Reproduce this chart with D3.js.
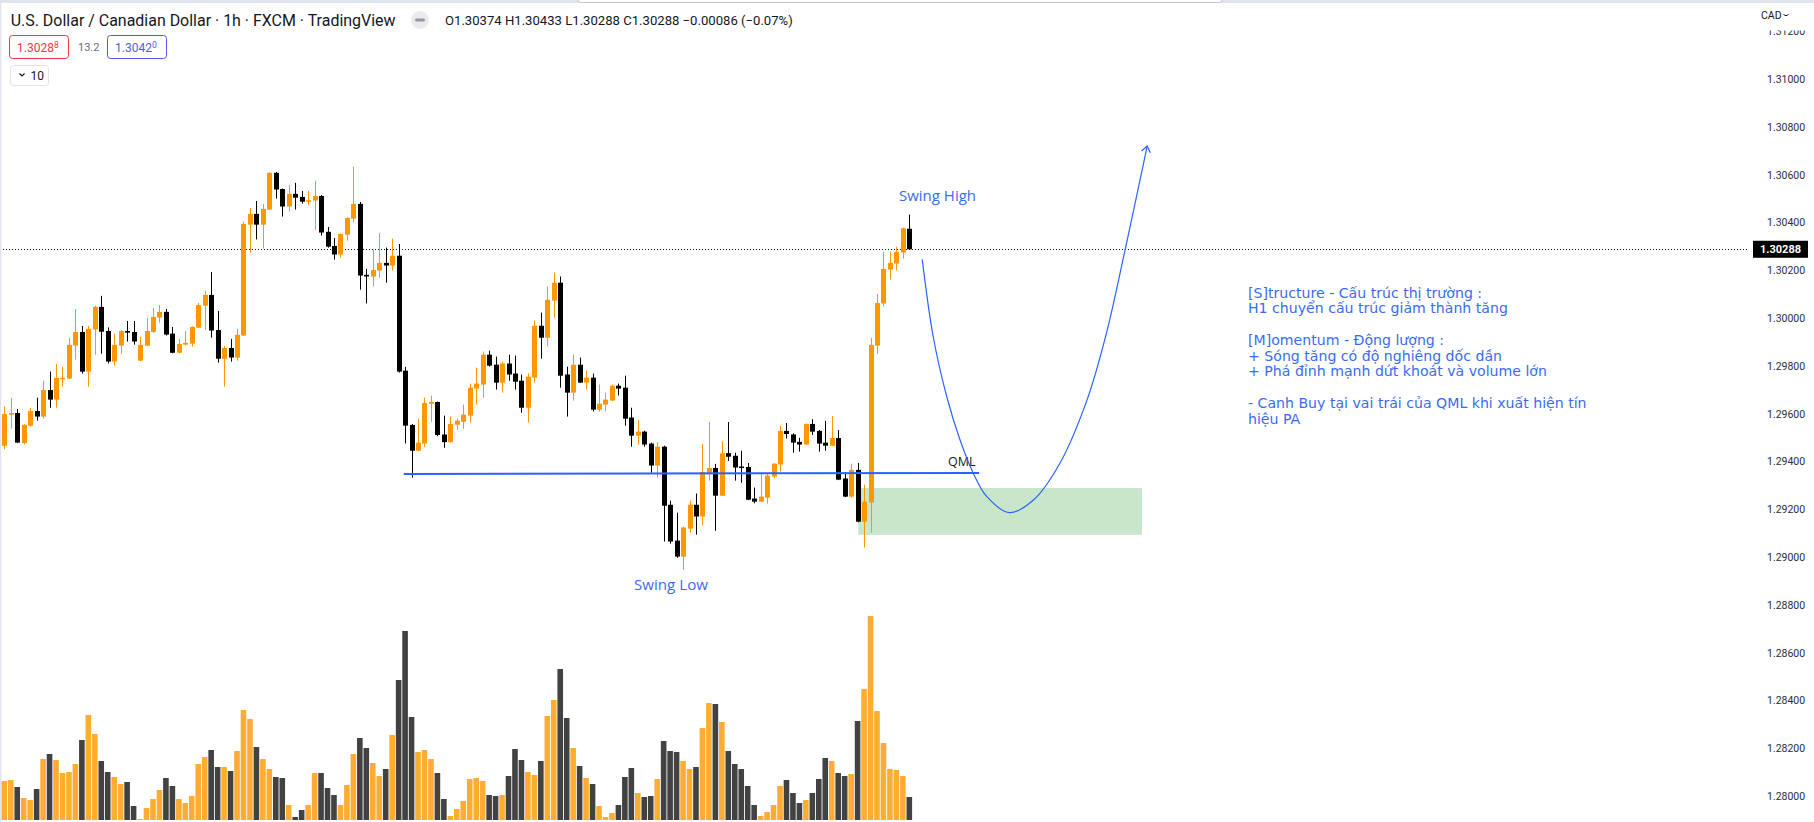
<!DOCTYPE html>
<html>
<head>
<meta charset="utf-8">
<script src="https://cdn.jsdelivr.net/npm/d3@7"></script>
<style>
  html, body { margin: 0; padding: 0; background: #ffffff; }
  svg { display: block; }
</style>
</head>
<body>
<svg id="chart" width="1814" height="822"></svg>
<script>
// ---------------- DATA (USD/CAD, 1h, FXCM) ----------------
const openP = [
1.29466,1.29596,1.29603,1.29477,1.29550,1.29611,1.29588,1.29699,1.29659,1.29746,
1.29747,1.29885,1.29942,1.29776,1.29952,1.30047,1.29946,1.29818,1.29885,1.29946,
1.29942,1.29822,1.29885,1.29942,1.30002,1.30026,1.29935,1.29855,1.29889,1.29893,
1.29960,1.30052,1.30097,1.29950,1.29830,1.29875,1.29835,1.29927,1.30391,1.30436,
1.30391,1.30454,1.30608,1.30540,1.30467,1.30520,1.30507,1.30487,1.30492,1.30511,
1.30361,1.30302,1.30266,1.30349,1.30416,1.30478,1.30181,1.30174,1.30199,1.30231,
1.30220,1.30261,1.29780,1.29553,1.29445,1.29475,1.29641,1.29649,1.29513,1.29481,
1.29554,1.29566,1.29592,1.29705,1.29722,1.29847,1.29805,1.29730,1.29810,1.29768,
1.29738,1.29625,1.29751,1.29968,1.29918,1.30073,1.30148,1.29764,1.29688,1.29805,
1.29730,1.29751,1.29617,1.29638,1.29655,1.29717,1.29709,1.29584,1.29508,1.29525,
1.29475,1.29383,1.29462,1.29219,1.29069,1.29002,1.29119,1.29219,1.29170,1.29350,
1.29373,1.29257,1.29435,1.29424,1.29379,1.29377,1.29245,1.29232,1.29249,1.29337,
1.29387,1.29528,1.29513,1.29482,1.29471,1.29557,1.29528,1.29479,1.29466,1.29498,
1.29329,1.29253,1.29365,1.29148,1.29228,1.29885,1.30061,1.30203,1.30228,1.30274,
1.30374];
const highP = [
1.29630,1.29667,1.29620,1.29557,1.29624,1.29667,1.29738,1.29776,1.29808,1.29796,
1.29917,1.30038,1.29967,1.29967,1.30052,1.30093,1.29961,1.29935,1.29950,1.29988,
1.29988,1.29921,1.30001,1.30043,1.30055,1.30038,1.29963,1.29913,1.29946,1.29965,
1.30063,1.30114,1.30193,1.30030,1.29883,1.29913,1.29955,1.30404,1.30461,1.30490,
1.30478,1.30610,1.30612,1.30542,1.30557,1.30566,1.30532,1.30532,1.30574,1.30515,
1.30381,1.30335,1.30354,1.30421,1.30633,1.30486,1.30206,1.30287,1.30356,1.30295,
1.30333,1.30310,1.29796,1.29557,1.29579,1.29667,1.29676,1.29651,1.29592,1.29588,
1.29579,1.29638,1.29726,1.29793,1.29860,1.29864,1.29839,1.29818,1.29847,1.29843,
1.29764,1.29768,1.29990,1.30023,1.30132,1.30190,1.30174,1.29797,1.29847,1.29835,
1.29780,1.29768,1.29722,1.29688,1.29722,1.29726,1.29759,1.29625,1.29575,1.29529,
1.29479,1.29481,1.29466,1.29236,1.29186,1.29127,1.29236,1.29266,1.29473,1.29565,
1.29390,1.29486,1.29565,1.29437,1.29445,1.29394,1.29291,1.29353,1.29349,1.29393,
1.29550,1.29561,1.29518,1.29499,1.29559,1.29577,1.29532,1.29570,1.29590,1.29532,
1.29356,1.29391,1.29394,1.29303,1.29917,1.30101,1.30278,1.30278,1.30299,1.30379,
1.30433];
const lowP = [
1.29451,1.29537,1.29477,1.29471,1.29545,1.29571,1.29579,1.29625,1.29625,1.29713,
1.29745,1.29826,1.29768,1.29713,1.29847,1.29851,1.29810,1.29801,1.29851,1.29902,
1.29889,1.29820,1.29883,1.29938,1.29981,1.29927,1.29853,1.29853,1.29885,1.29881,
1.29958,1.29952,1.29918,1.29814,1.29713,1.29818,1.29822,1.29925,1.30274,1.30329,
1.30291,1.30452,1.30500,1.30425,1.30446,1.30454,1.30479,1.30471,1.30370,1.30345,
1.30295,1.30245,1.30253,1.30324,1.30400,1.30119,1.30061,1.30132,1.30169,1.30148,
1.30199,1.29772,1.29475,1.29332,1.29443,1.29462,1.29566,1.29506,1.29457,1.29479,
1.29533,1.29537,1.29563,1.29638,1.29667,1.29797,1.29701,1.29688,1.29738,1.29701,
1.29604,1.29563,1.29730,1.29830,1.29881,1.30002,1.29709,1.29588,1.29655,1.29728,
1.29701,1.29609,1.29609,1.29609,1.29653,1.29676,1.29550,1.29462,1.29471,1.29462,
1.29353,1.29332,1.29065,1.29056,1.28997,1.28947,1.29102,1.29094,1.29132,1.29320,
1.29110,1.29255,1.29402,1.29320,1.29311,1.29238,1.29225,1.29230,1.29224,1.29329,
1.29357,1.29496,1.29437,1.29441,1.29469,1.29511,1.29441,1.29445,1.29464,1.29322,
1.29251,1.29249,1.29146,1.29040,1.29102,1.29851,1.30048,1.30161,1.30199,1.30249,
1.30288];
const closeP = [
1.29599,1.29603,1.29479,1.29553,1.29611,1.29588,1.29699,1.29659,1.29750,1.29750,
1.29888,1.29942,1.29776,1.29955,1.30047,1.29943,1.29818,1.29888,1.29946,1.29939,
1.29902,1.29888,1.29946,1.30005,1.30026,1.29931,1.29855,1.29892,1.29896,1.29963,
1.30055,1.30097,1.29948,1.29830,1.29875,1.29835,1.29930,1.30394,1.30436,1.30391,
1.30457,1.30608,1.30538,1.30467,1.30520,1.30504,1.30487,1.30494,1.30511,1.30358,
1.30299,1.30266,1.30352,1.30419,1.30478,1.30178,1.30174,1.30201,1.30231,1.30220,
1.30261,1.29776,1.29550,1.29445,1.29479,1.29645,1.29649,1.29511,1.29481,1.29557,
1.29571,1.29596,1.29709,1.29726,1.29847,1.29801,1.29730,1.29810,1.29764,1.29734,
1.29625,1.29755,1.29968,1.29918,1.30077,1.30148,1.29759,1.29688,1.29805,1.29730,
1.29751,1.29617,1.29642,1.29659,1.29717,1.29705,1.29579,1.29508,1.29525,1.29471,
1.29383,1.29462,1.29215,1.29065,1.29002,1.29124,1.29219,1.29170,1.29356,1.29373,
1.29257,1.29435,1.29420,1.29375,1.29373,1.29240,1.29232,1.29253,1.29341,1.29391,
1.29528,1.29515,1.29479,1.29471,1.29557,1.29525,1.29475,1.29466,1.29498,1.29324,
1.29253,1.29365,1.29148,1.29232,1.29888,1.30063,1.30206,1.30231,1.30277,1.30376,
1.30288];
const volume = [
117,120,99,66,60,93,183,198,180,141,144,168,240,315,258,177,144,129,108,114,
42,3,36,63,90,126,102,63,51,72,168,189,210,159,159,147,207,330,303,219,
183,153,129,126,45,9,30,45,141,141,96,75,45,105,198,246,216,171,132,153,
255,420,567,309,204,210,183,141,63,12,33,57,123,126,117,75,72,75,132,213,
180,144,135,177,312,360,453,306,216,162,126,108,42,9,21,45,129,156,81,69,
72,123,237,207,204,177,153,159,276,351,348,294,207,168,153,102,45,12,24,45,
102,120,81,51,60,81,123,186,177,141,132,138,297,393,612,327,231,153,150,132,
69];
const priceTicks = [1.280,1.282,1.284,1.286,1.288,1.290,1.292,1.294,1.296,1.298,
                    1.300,1.302,1.304,1.306,1.308,1.310,1.312];
const lastPrice = 1.30288;

// drawings (bar index, price)
const qmlIdx = [61.8, 150.8];
const qmlPrice = [1.29348, 1.29352];
const zoneIdx = [132.1, 176.0];
const zonePrice = [1.29289, 1.29093];
const pathIdx = [142.0,143.7,145.8,147.85,149.9,152.0,155.5,159.2,163.3,167.5,170.5,173.4,176.8];
const pathPrice = [1.30246,1.29922,1.29671,1.29490,1.29351,1.29253,1.29186,1.29239,1.29393,1.29658,1.29937,1.30288,1.30720];

const notes = [
  "[S]tructure - Cấu trúc thị trường :",
  "H1 chuyển cấu trúc giảm thành tăng",
  "",
  "[M]omentum - Động lượng :",
  "+ Sóng tăng có độ nghiêng dốc dần",
  "+ Phá đỉnh mạnh dứt khoát và volume lớn",
  "",
  "- Canh Buy tại vai trái của QML khi xuất hiện tín",
  "hiệu PA"
];

// ---------------- SETUP ----------------
const W = 1814, H = 822;
const UP = "#FF9800", DOWN = "#000000";
const VUP = "#FFAC33", VDOWN = "#424242";
const BLUE = "#2962FF", TXTBLUE = "#3A6CF2";
const svg = d3.select("#chart");

const candles = openP.map((o, i) => ({i, o, h: highP[i], l: lowP[i], c: closeP[i], v: volume[i]}));

const x = d3.scaleLinear().domain([0, 140]).range([4.3, 909.3]);
const y = d3.scaleLinear().domain([1.28, 1.312]).range([796.1, 31.3]);
const yv = d3.scaleLinear().domain([0, 612]).range([820, 616]);

function fitText(sel, target) {
  const node = sel.node();
  const fs = parseFloat(sel.attr("font-size"));
  const w = node.getComputedTextLength();
  if (w > 0) sel.attr("font-size", (fs * target / w).toFixed(2));
  return sel;
}

svg.append("rect").attr("width", W).attr("height", H).attr("fill", "#fff");

// volume bars
svg.append("g").selectAll("rect").data(candles).join("rect")
  .attr("x", d => x(d.i) - 2.8)
  .attr("width", 5.6)
  .attr("y", d => yv(d.v))
  .attr("height", d => yv(0) - yv(d.v))
  .attr("fill", d => d.c >= d.o ? VUP : VDOWN);

// demand zone
svg.append("rect")
  .attr("x", x(zoneIdx[0])).attr("width", x(zoneIdx[1]) - x(zoneIdx[0]))
  .attr("y", y(zonePrice[0])).attr("height", y(zonePrice[1]) - y(zonePrice[0]))
  .attr("fill", "#C8E6C9");

// last price dotted line
svg.append("line")
  .attr("x1", 0).attr("x2", 1748)
  .attr("y1", Math.round(y(lastPrice)) + 0.5).attr("y2", Math.round(y(lastPrice)) + 0.5)
  .attr("stroke", "#131722").attr("stroke-width", 1).attr("stroke-dasharray", "1,2");

// candles
const cg = svg.append("g");
cg.selectAll("line").data(candles).join("line")
  .attr("x1", d => Math.round(x(d.i)) + 0.5).attr("x2", d => Math.round(x(d.i)) + 0.5)
  .attr("y1", d => y(d.h)).attr("y2", d => y(d.l))
  .attr("stroke", d => d.c >= d.o ? UP : DOWN).attr("stroke-width", 1);
cg.selectAll("rect").data(candles).join("rect")
  .attr("x", d => Math.round(x(d.i)) - 2)
  .attr("width", 5)
  .attr("y", d => y(Math.max(d.o, d.c)))
  .attr("height", d => Math.max(1.5, Math.abs(y(d.o) - y(d.c))))
  .attr("fill", d => d.c >= d.o ? UP : DOWN);

// QML line
svg.append("line")
  .attr("x1", x(qmlIdx[0])).attr("y1", y(qmlPrice[0]))
  .attr("x2", x(qmlIdx[1])).attr("y2", y(qmlPrice[1]))
  .attr("stroke", BLUE).attr("stroke-width", 2);
svg.append("text").attr("x", 948).attr("y", y(qmlPrice[1]) - 6.5)
  .attr("font-family", "Open Sans, sans-serif").attr("font-size", 12.5)
  .attr("fill", "#131722").text("QML");

// projected path with arrow
svg.append("defs").append("marker")
  .attr("id", "arr").attr("viewBox", "-8 -6 10 12")
  .attr("refX", 0).attr("refY", 0)
  .attr("markerWidth", 10).attr("markerHeight", 12)
  .attr("markerUnits", "userSpaceOnUse").attr("orient", "auto")
  .append("path").attr("d", "M-6,-4.5 L0,0 L-6,4.5")
  .attr("fill", "none").attr("stroke", BLUE).attr("stroke-width", 1.2);
const pathPts = pathIdx.map((d, k) => [d, pathPrice[k]]);
svg.append("path")
  .attr("d", d3.line().x(d => x(d[0])).y(d => y(d[1])).curve(d3.curveCatmullRom.alpha(0.5))(pathPts))
  .attr("fill", "none").attr("stroke", BLUE).attr("stroke-width", 1.2)
  .attr("marker-end", "url(#arr)");

// swing labels
fitText(svg.append("text").attr("x", 899).attr("y", 201)
  .attr("font-family", "Open Sans, sans-serif").attr("font-size", 14)
  .attr("fill", TXTBLUE).text("Swing High"), 77);
fitText(svg.append("text").attr("x", 634).attr("y", 590)
  .attr("font-family", "Open Sans, sans-serif").attr("font-size", 14)
  .attr("fill", TXTBLUE).text("Swing Low"), 74);

// notes
const ng = svg.append("g");
const refLine = ng.append("text").attr("x", 1248).attr("y", -100)
  .attr("font-family", "DejaVu Sans, sans-serif").attr("font-size", 13).text(notes[1]);
fitText(refLine, 260);
const noteFs = refLine.attr("font-size");
refLine.remove();
notes.forEach((t, k) => {
  if (!t) return;
  ng.append("text").attr("x", 1248).attr("y", 297.5 + k * 15.75)
    .attr("font-family", "DejaVu Sans, sans-serif").attr("font-size", noteFs)
    .attr("fill", TXTBLUE).text(t);
});

// price axis
const axisG = svg.append("g").attr("transform", "translate(1762,0)")
  .call(d3.axisRight(y).tickValues(priceTicks).tickFormat(d3.format(".5f")).tickSize(0).tickPadding(5));
axisG.select(".domain").remove();
axisG.selectAll("text").attr("font-family", "Roboto, sans-serif").attr("font-size", 10.5).attr("fill", "#2A2E39");

// axis header (covers top label partially)
svg.append("rect").attr("x", 1750).attr("y", 0).attr("width", 64).attr("height", 30.5).attr("fill", "#fff");
svg.append("text").attr("x", 1761).attr("y", 18.5)
  .attr("font-family", "Roboto, sans-serif").attr("font-size", 10.5).attr("fill", "#131722").text("CAD");
svg.append("path").attr("d", "M1783.5,14.5 Q1786,17 1788.5,14.5").attr("fill", "none")
  .attr("stroke", "#131722").attr("stroke-width", 1);

// last price label
const lpY = y(lastPrice);
svg.append("rect").attr("x", 1753).attr("y", lpY - 8.5).attr("width", 55).attr("height", 17).attr("fill", "#000");
svg.append("text").attr("x", 1780.5).attr("y", lpY + 4).attr("text-anchor", "middle")
  .attr("font-family", "Roboto, sans-serif").attr("font-size", 11).attr("font-weight", "bold")
  .attr("fill", "#fff").text(d3.format(".5f")(lastPrice));

// ---------------- HEADER ----------------
svg.append("rect").attr("x", 0).attr("y", 0).attr("width", W).attr("height", 3).attr("fill", "#E0E3EB");
svg.append("rect").attr("x", 0).attr("y", 0).attr("width", 1.3).attr("height", H).attr("fill", "#E0E3EB");
svg.append("rect").attr("x", 578).attr("y", -10).attr("width", 644).attr("height", 12.5).attr("rx", 3)
  .attr("fill", "#fff").attr("stroke", "#C4C6CC").attr("stroke-width", 1);

fitText(svg.append("text").attr("x", 10.7).attr("y", 25.5)
  .attr("font-family", "Roboto, sans-serif").attr("font-size", 15.5).attr("fill", "#131722")
  .text("U.S. Dollar / Canadian Dollar · 1h · FXCM · TradingView"), 385);

svg.append("circle").attr("cx", 420).attr("cy", 20).attr("r", 9).attr("fill", "#E9EAED");
svg.append("rect").attr("x", 415).attr("y", 18.5).attr("width", 10).attr("height", 3).attr("rx", 1.5).attr("fill", "#9598A1");

fitText(svg.append("text").attr("x", 445).attr("y", 25)
  .attr("font-family", "Roboto, sans-serif").attr("font-size", 13).attr("fill", "#131722")
  .text("O1.30374  H1.30433  L1.30288  C1.30288  −0.00086 (−0.07%)"), 348);

// bid / ask boxes
function priceBox(x0, color, main, sup) {
  svg.append("rect").attr("x", x0 + 0.5).attr("y", 35.5).attr("width", 59).attr("height", 23).attr("rx", 3)
    .attr("fill", "#fff").attr("stroke", color).attr("stroke-width", 1);
  const t = svg.append("text").attr("x", x0 + 8).attr("y", 51.5)
    .attr("font-family", "Roboto, sans-serif").attr("font-size", 12).attr("fill", color);
  t.append("tspan").text(main);
  t.append("tspan").attr("font-size", 8.5).attr("dy", -4).text(sup);
}
priceBox(9, "#F23645", "1.3028", "8");
svg.append("text").attr("x", 78).attr("y", 51).attr("font-family", "Roboto, sans-serif")
  .attr("font-size", 11).attr("fill", "#6A6D78").text("13.2");
priceBox(107, "#4E5DEB", "1.3042", "0");

svg.append("rect").attr("x", 10.5).attr("y", 65.5).attr("width", 38).attr("height", 20).attr("rx", 3)
  .attr("fill", "#fff").attr("stroke", "#E0E3EB").attr("stroke-width", 1);
svg.append("path").attr("d", "M19.5,73.5 L22,76 L24.5,73.5").attr("fill", "none")
  .attr("stroke", "#131722").attr("stroke-width", 1.2);
svg.append("text").attr("x", 30.5).attr("y", 80).attr("font-family", "Roboto, sans-serif")
  .attr("font-size", 12).attr("fill", "#131722").text("10");
</script>
</body>
</html>
